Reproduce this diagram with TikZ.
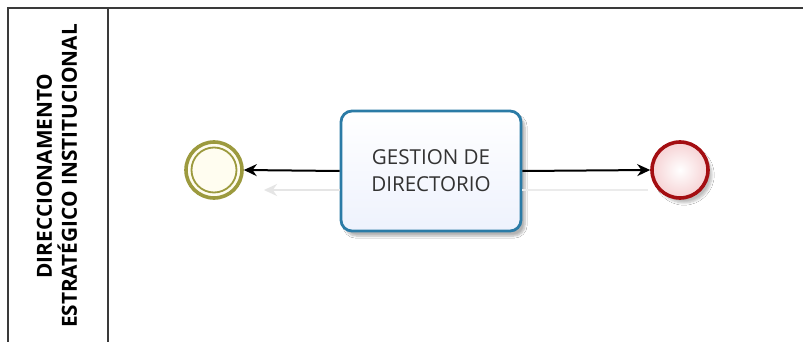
\documentclass[tikz,border=0pt]{standalone}
\usepackage{fontspec}
\setmainfont{Open Sans}
\usetikzlibrary{arrows.meta,shadows.blur}
\definecolor{poolline}{HTML}{3A3A3A}
\definecolor{taskborder}{HTML}{2B7BA6}
\definecolor{taskfill}{HTML}{EEF2FD}
\definecolor{startring}{HTML}{9C9A3E}
\definecolor{startfill}{HTML}{FFFDF0}
\definecolor{endring}{HTML}{A40E12}
\definecolor{endfill}{HTML}{F6D2D4}
\definecolor{tasktext}{HTML}{333333}
\tikzset{
  x=1pt, y=-1pt,
  poolrule/.style={draw=poolline, line width=2pt},
  taskbox/.style={rectangle, rounded corners=11pt, draw=taskborder, line width=2.8pt,
    top color=white, bottom color=taskfill, minimum width=180pt, minimum height=120pt,
    align=center, text=tasktext, font=\fontsize{20.6}{27}\selectfont,
    blur shadow={shadow xshift=4pt, shadow yshift=-5pt, shadow opacity=30, shadow blur steps=6}},
  interevent/.style={circle, draw=startring, line width=3.6pt,
    fill=startfill, minimum size=56pt, inner sep=0pt},
  innerring/.style={draw=startring, line width=1.8pt},
  endevent/.style={circle, draw=endring, line width=3.6pt, inner color=white, outer color=endfill,
    minimum size=56pt, inner sep=0pt,
    blur shadow={shadow xshift=4pt, shadow yshift=-5pt, shadow opacity=25, shadow blur steps=6}},
  flow/.style={draw=black, line width=2pt, -{Stealth[length=13pt,width=12pt]}},
  flowshadow/.style={draw=black!10, line width=1.6pt, -{Stealth[length=13pt,width=12pt]}},
  lanetitle/.style={rotate=90, font=\bfseries\fontsize{20.8}{25}\selectfont, align=center, text=black}
}
\begin{document}
\begin{tikzpicture}
\useasboundingbox (0,0) rectangle (803,342);
\fill[white] (0,0) rectangle (803,342);
% pool frame and lane header
\draw[poolrule] (8,342) -- (8,8.5) -- (803,8.5);
\draw[poolrule] (108,8.5) -- (108,342);
\node[lanetitle] (lane) at (57,176) {DIRECCIONAMENTO\\ESTRATÉGICO INSTITUCIONAL};
% flow elements
\node[taskbox] (task) at (431,171) {GESTION DE\\DIRECTORIO};
\node[interevent] (ev) at (214,170) {};
\draw[innerring] (ev.center) circle[radius=22.5pt];
\node[endevent] (fin) at (680,170) {};
% connector shadows
\coordinate (shA) at ([yshift=-19pt]task.west);
\coordinate (shB) at (264,190);
\draw[flowshadow] (shA) -- (shB);
\coordinate (shC) at ([yshift=-19pt]task.east);
\coordinate (shD) at (648,190);
\draw[draw=black!8, line width=1.6pt] (shC) -- (shD);
% sequence flows
\draw[flow] (task.west) -- (ev.east);
\draw[flow] (task.east) -- (fin.west);
\end{tikzpicture}
\end{document}
